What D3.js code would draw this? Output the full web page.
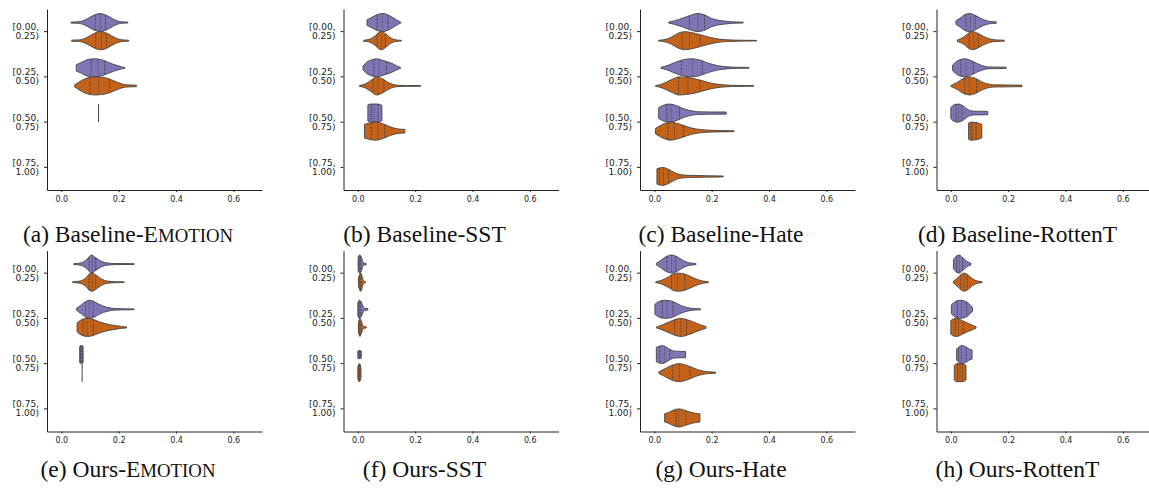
<!DOCTYPE html>
<html>
<head>
<meta charset="utf-8">
<script src="https://cdn.jsdelivr.net/npm/d3@7"></script>
<style>
  body { margin: 0; background: #fff; }
  svg { display: block; }
</style>
</head>
<body>
<div id="chart"></div>
<script>
// Bins on the y axis (tick labels are split on two lines).
const bins = ["[0.00,\n0.25)", "[0.25,\n0.50)", "[0.50,\n0.75)", "[0.75,\n1.00)"];
const xTicks = [0.0, 0.2, 0.4, 0.6];
const hues = ["purple", "orange"];

// Panel captions: prefix, small-caps word (if any), rest.
const captions = [
  ["(a) Baseline-", "EMOTION"], ["(b) Baseline-SST", ""], ["(c) Baseline-Hate", ""], ["(d) Baseline-RottenT", ""],
  ["(e) Ours-", "EMOTION"], ["(f) Ours-SST", ""], ["(g) Ours-Hate", ""], ["(h) Ours-RottenT", ""]
];

// Each violin: bin index, hue index, quartiles [q1, median, q3], kde profile [value, relative density].
// A single observation is given as "point".
const baselineEmotion = [
  {bin: 0, hue: 0, quart: [0.118, 0.136, 0.154], kde: [[0.034,0.06],[0.06,0.08],[0.08,0.25],[0.10,0.6],[0.12,0.9],[0.135,1],[0.15,0.9],[0.17,0.6],[0.19,0.25],[0.21,0.08],[0.232,0.05]]},
  {bin: 0, hue: 1, quart: [0.12, 0.14, 0.157], kde: [[0.036,0.06],[0.06,0.08],[0.08,0.22],[0.10,0.55],[0.12,0.88],[0.137,1],[0.155,0.88],[0.175,0.55],[0.195,0.22],[0.215,0.08],[0.235,0.05]]},
  {bin: 1, hue: 0, quart: [0.104, 0.128, 0.151], kde: [[0.052,0.35],[0.07,0.6],[0.09,0.9],[0.115,1],[0.14,0.9],[0.165,0.6],[0.19,0.3],[0.21,0.12],[0.222,0.03]]},
  {bin: 1, hue: 1, quart: [0.10, 0.13, 0.168], kde: [[0.046,0.1],[0.06,0.4],[0.08,0.75],[0.10,0.95],[0.12,1],[0.14,0.95],[0.16,0.85],[0.18,0.6],[0.20,0.35],[0.22,0.15],[0.24,0.1],[0.262,0.08]]},
  {bin: 2, hue: 0, point: 0.13}
];
const baselineSST = [
  {bin: 0, hue: 0, quart: [0.067, 0.085, 0.106], kde: [[0.032,0.3],[0.05,0.6],[0.07,0.9],[0.088,1],[0.105,0.85],[0.125,0.5],[0.14,0.2],[0.15,0.05]]},
  {bin: 0, hue: 1, quart: [0.067, 0.082, 0.096], kde: [[0.02,0.05],[0.04,0.15],[0.06,0.5],[0.075,0.95],[0.082,1],[0.095,0.8],[0.11,0.4],[0.125,0.15],[0.14,0.06],[0.152,0.04]]},
  {bin: 1, hue: 0, quart: [0.056, 0.074, 0.10], kde: [[0.018,0.2],[0.03,0.6],[0.05,0.9],[0.065,1],[0.085,0.85],[0.105,0.65],[0.125,0.4],[0.14,0.15],[0.149,0.05]]},
  {bin: 1, hue: 1, quart: [0.053, 0.07, 0.091], kde: [[0.006,0.05],[0.025,0.2],[0.045,0.6],[0.065,1],[0.085,0.8],[0.105,0.4],[0.125,0.15],[0.14,0.07],[0.17,0.05],[0.219,0.04]]},
  {bin: 2, hue: 0, quart: [0.047, 0.056, 0.07], kde: [[0.035,0.9],[0.045,1],[0.07,1],[0.084,0.85]]},
  {bin: 2, hue: 1, quart: [0.047, 0.07, 0.094], kde: [[0.023,0.75],[0.04,0.9],[0.06,1],[0.08,0.9],[0.10,0.65],[0.12,0.4],[0.14,0.25],[0.164,0.2]]}
];
const baselineHate = [
  {bin: 0, hue: 0, quart: [0.123, 0.152, 0.175], kde: [[0.05,0.05],[0.07,0.2],[0.10,0.5],[0.13,0.85],[0.152,1],[0.175,0.85],[0.20,0.45],[0.225,0.25],[0.25,0.15],[0.27,0.08],[0.31,0.05]]},
  {bin: 0, hue: 1, quart: [0.097, 0.123, 0.16], kde: [[0.015,0.04],[0.04,0.15],[0.06,0.4],[0.085,0.85],[0.105,1],[0.13,0.9],[0.16,0.65],[0.19,0.4],[0.22,0.2],[0.25,0.1],[0.30,0.05],[0.357,0.03]]},
  {bin: 1, hue: 0, quart: [0.094, 0.134, 0.167], kde: [[0.023,0.05],[0.05,0.3],[0.08,0.7],[0.11,0.95],[0.13,1],[0.16,0.85],[0.19,0.5],[0.22,0.25],[0.25,0.12],[0.29,0.06],[0.33,0.04]]},
  {bin: 1, hue: 1, quart: [0.085, 0.117, 0.158], kde: [[0.004,0.03],[0.03,0.25],[0.06,0.7],[0.085,1],[0.11,0.95],[0.14,0.8],[0.17,0.55],[0.20,0.3],[0.23,0.15],[0.27,0.07],[0.347,0.03]]},
  {bin: 2, hue: 0, quart: [0.044, 0.058, 0.088], kde: [[0.015,0.6],[0.03,0.85],[0.05,1],[0.07,0.9],[0.09,0.65],[0.11,0.4],[0.13,0.25],[0.15,0.15],[0.20,0.12],[0.251,0.12]]},
  {bin: 2, hue: 1, quart: [0.047, 0.07, 0.102], kde: [[0.004,0.3],[0.02,0.6],[0.04,0.9],[0.055,1],[0.075,0.9],[0.10,0.65],[0.13,0.35],[0.16,0.18],[0.20,0.1],[0.278,0.05]]},
  {bin: 3, hue: 1, quart: [0.018, 0.032, 0.05], kde: [[0.009,0.85],[0.02,0.95],[0.03,1],[0.045,0.85],[0.06,0.6],[0.075,0.35],[0.09,0.2],[0.12,0.12],[0.18,0.08],[0.24,0.05]]}
];
const baselineRottenT = [
  {bin: 0, hue: 0, quart: [0.053, 0.068, 0.085], kde: [[0.018,0.2],[0.035,0.55],[0.05,0.9],[0.065,1],[0.085,0.8],[0.105,0.45],[0.125,0.2],[0.145,0.1],[0.158,0.08]]},
  {bin: 0, hue: 1, quart: [0.064, 0.08, 0.096], kde: [[0.023,0.08],[0.045,0.4],[0.065,0.9],[0.078,1],[0.095,0.8],[0.115,0.45],[0.135,0.2],[0.16,0.08],[0.187,0.05]]},
  {bin: 1, hue: 0, quart: [0.035, 0.053, 0.078], kde: [[0.006,0.3],[0.02,0.7],[0.04,0.97],[0.05,1],[0.07,0.8],[0.09,0.5],[0.11,0.25],[0.13,0.1],[0.193,0.07]]},
  {bin: 1, hue: 1, quart: [0.049, 0.064, 0.09], kde: [[0.0,0.05],[0.02,0.35],[0.045,0.85],[0.065,1],[0.085,0.85],[0.105,0.5],[0.125,0.25],[0.15,0.12],[0.20,0.1],[0.248,0.08]]},
  {bin: 2, hue: 0, quart: [0.018, 0.027, 0.039], kde: [[0.0,0.6],[0.01,0.9],[0.025,1],[0.04,0.85],[0.055,0.5],[0.07,0.25],[0.09,0.2],[0.11,0.2],[0.129,0.18]]},
  {bin: 2, hue: 1, quart: [0.07, 0.076, 0.088], kde: [[0.062,0.9],[0.07,1],[0.09,0.95],[0.10,0.85],[0.108,0.75]]}
];
const oursEmotion = [
  {bin: 0, hue: 0, quart: [0.097, 0.109, 0.12], kde: [[0.043,0.04],[0.07,0.15],[0.09,0.55],[0.105,1],[0.12,0.7],[0.14,0.3],[0.16,0.12],[0.19,0.06],[0.254,0.04]]},
  {bin: 0, hue: 1, quart: [0.097, 0.108, 0.12], kde: [[0.039,0.04],[0.065,0.12],[0.085,0.45],[0.10,0.95],[0.108,1],[0.12,0.8],[0.14,0.35],[0.16,0.12],[0.19,0.06],[0.219,0.04]]},
  {bin: 1, hue: 0, quart: [0.085, 0.097, 0.111], kde: [[0.053,0.1],[0.07,0.5],[0.09,0.95],[0.10,1],[0.115,0.85],[0.135,0.5],[0.16,0.22],[0.19,0.08],[0.254,0.04]]},
  {bin: 1, hue: 1, quart: [0.076, 0.09, 0.111], kde: [[0.055,0.5],[0.07,0.85],[0.09,1],[0.11,0.9],[0.13,0.65],[0.15,0.45],[0.17,0.3],[0.19,0.2],[0.21,0.1],[0.228,0.05]]},
  {bin: 2, hue: 0, quart: [0.067, 0.07, 0.073], kde: [[0.064,0.9],[0.07,1],[0.076,0.9]]},
  {bin: 2, hue: 1, point: 0.0725}
];
const oursSST = [
  {bin: 0, hue: 0, quart: [0.004, 0.007, 0.01], kde: [[0.001,0.7],[0.006,1],[0.012,0.8],[0.017,0.3],[0.023,0.1],[0.029,0.08]]},
  {bin: 0, hue: 1, quart: [0.006, 0.009, 0.012], kde: [[0.002,0.4],[0.008,0.95],[0.011,1],[0.016,0.5],[0.02,0.15],[0.026,0.08]]},
  {bin: 1, hue: 0, quart: [0.003, 0.006, 0.01], kde: [[0.0,0.7],[0.005,1],[0.012,0.8],[0.018,0.35],[0.024,0.12],[0.035,0.08]]},
  {bin: 1, hue: 1, quart: [0.005, 0.008, 0.011], kde: [[0.002,0.4],[0.007,1],[0.012,0.7],[0.017,0.25],[0.022,0.1],[0.029,0.07]]},
  {bin: 2, hue: 0, quart: [0.004, 0.006, 0.008], kde: [[0.0,0.4],[0.005,0.45],[0.012,0.4]]},
  {bin: 2, hue: 1, quart: [0.003, 0.005, 0.007], kde: [[0.0,0.6],[0.004,1],[0.008,0.9],[0.011,0.5]]}
];
const oursHate = [
  {bin: 0, hue: 0, quart: [0.044, 0.06, 0.074], kde: [[0.007,0.1],[0.02,0.35],[0.04,0.8],[0.06,1],[0.08,0.8],[0.10,0.4],[0.12,0.15],[0.145,0.07]]},
  {bin: 0, hue: 1, quart: [0.06, 0.08, 0.106], kde: [[0.005,0.05],[0.025,0.2],[0.05,0.6],[0.07,0.95],[0.085,1],[0.105,0.9],[0.125,0.65],[0.15,0.3],[0.17,0.12],[0.188,0.06]]},
  {bin: 1, hue: 0, quart: [0.028, 0.044, 0.065], kde: [[0.002,0.55],[0.015,0.85],[0.035,1],[0.055,0.95],[0.075,0.7],[0.095,0.4],[0.115,0.2],[0.14,0.08],[0.161,0.06]]},
  {bin: 1, hue: 1, quart: [0.071, 0.092, 0.112], kde: [[0.007,0.05],[0.03,0.3],[0.055,0.65],[0.08,0.95],[0.095,1],[0.115,0.85],[0.14,0.55],[0.16,0.3],[0.18,0.1]]},
  {bin: 2, hue: 0, quart: [0.019, 0.036, 0.054], kde: [[0.007,0.8],[0.02,0.95],[0.028,1],[0.04,0.85],[0.055,0.55],[0.07,0.38],[0.09,0.35],[0.109,0.35]]},
  {bin: 2, hue: 1, quart: [0.063, 0.087, 0.124], kde: [[0.016,0.1],[0.035,0.4],[0.06,0.8],[0.085,1],[0.11,0.85],[0.13,0.6],[0.15,0.35],[0.17,0.18],[0.19,0.1],[0.214,0.06]]},
  {bin: 3, hue: 1, quart: [0.075, 0.084, 0.11], kde: [[0.036,0.45],[0.05,0.6],[0.07,0.9],[0.088,1],[0.105,0.85],[0.125,0.65],[0.145,0.5],[0.159,0.45]]}
];
const oursRottenT = [
  {bin: 0, hue: 0, quart: [0.02, 0.029, 0.041], kde: [[0.009,0.5],[0.02,0.9],[0.03,1],[0.04,0.75],[0.05,0.45],[0.06,0.22],[0.07,0.1]]},
  {bin: 0, hue: 1, quart: [0.035, 0.047, 0.058], kde: [[0.009,0.1],[0.025,0.5],[0.04,0.95],[0.048,1],[0.06,0.8],[0.075,0.4],[0.09,0.15],[0.109,0.05]]},
  {bin: 1, hue: 0, quart: [0.023, 0.037, 0.055], kde: [[0.002,0.5],[0.015,0.85],[0.03,1],[0.045,0.95],[0.06,0.7],[0.07,0.4],[0.076,0.2]]},
  {bin: 1, hue: 1, quart: [0.015, 0.027, 0.043], kde: [[0.0,0.75],[0.01,0.95],[0.02,1],[0.04,0.75],[0.06,0.45],[0.075,0.25],[0.088,0.08]]},
  {bin: 2, hue: 0, quart: [0.027, 0.037, 0.053], kde: [[0.02,0.6],[0.03,0.9],[0.04,1],[0.055,0.8],[0.065,0.6],[0.074,0.5]]},
  {bin: 2, hue: 1, quart: [0.023, 0.032, 0.041], kde: [[0.012,0.8],[0.02,1],[0.04,1],[0.053,0.8]]}
];

const panels = [baselineEmotion, baselineSST, baselineHate, baselineRottenT,
                oursEmotion, oursSST, oursHate, oursRottenT];

// Layout
const width = 1149;
const height = 489;
const colX = [47, 343.5, 640, 936.5];
const rowTop = [9, 250.5];
const plotW = 215;
const plotH = 181;
const captionY = [242, 477];

const color = d3.scaleOrdinal().domain([0, 1]).range(["#8074b4", "#c4621a"]);
const edge = "#444444";

const svg = d3.select("#chart").append("svg")
    .attr("width", width)
    .attr("height", height)
    .attr("viewBox", [0, 0, width, height]);

// linear interpolation of the kde profile, used to size the quartile lines
function densityAt(kde, v) {
  if (v <= kde[0][0]) return kde[0][1];
  for (let i = 1; i < kde.length; i++) {
    if (v <= kde[i][0]) {
      const t = (v - kde[i-1][0]) / (kde[i][0] - kde[i-1][0]);
      return kde[i-1][1] + t * (kde[i][1] - kde[i-1][1]);
    }
  }
  return kde[kde.length - 1][1];
}

panels.forEach((violins, p) => {
  const col = p % 4, row = Math.floor(p / 4);
  const x0 = colX[col], y0 = rowTop[row];

  const x = d3.scaleLinear().domain([-0.05, 0.7]).range([x0, x0 + plotW]);
  const y = d3.scaleBand().domain(d3.range(bins.length)).range([y0, y0 + plotH]);
  const hw = y.bandwidth() * 0.2; // half width of each hue violin
  const center = d => y(d.bin) + y.bandwidth() / 2 + (d.hue === 0 ? -1 : 1) * hw;

  const g = svg.append("g");

  // violins
  const area = d3.area()
      .curve(d3.curveMonotoneX)
      .x(k => x(k[0]));

  violins.forEach(d => {
    const cy = center(d);
    if (d.point !== undefined) {
      g.append("line")
          .attr("x1", x(d.point)).attr("x2", x(d.point))
          .attr("y1", cy - hw).attr("y2", cy + hw)
          .attr("stroke", edge).attr("stroke-width", 1);
      return;
    }
    g.append("path")
        .datum(d.kde)
        .attr("d", area.y0(k => cy - k[1] * hw).y1(k => cy + k[1] * hw))
        .attr("fill", color(d.hue))
        .attr("stroke", edge)
        .attr("stroke-width", 0.9);

    d.quart.forEach((q, i) => {
      const w = densityAt(d.kde, q) * hw;
      g.append("line")
          .attr("x1", x(q)).attr("x2", x(q))
          .attr("y1", cy - w).attr("y2", cy + w)
          .attr("stroke", edge)
          .attr("stroke-width", 0.8)
          .attr("stroke-dasharray", i === 1 ? "1,1" : "2.5,1");
    });
  });

  // x axis
  g.append("g")
      .attr("transform", `translate(0,${y0 + plotH})`)
      .call(d3.axisBottom(x).tickValues(xTicks).tickFormat(d3.format(".1f")).tickSize(2).tickSizeOuter(0))
      .call(a => a.select(".domain").attr("stroke", "#222"))
      .call(a => a.selectAll(".tick line").attr("stroke", "#222"))
      .selectAll("text")
      .attr("y", 6)
      .style("font-family", "DejaVu Sans")
      .style("font-size", "8px")
      .attr("fill", "#222");

  // y axis
  g.append("g")
      .attr("transform", `translate(${x0},0)`)
      .call(d3.axisLeft(y).tickFormat(i => "").tickSize(3).tickSizeOuter(0))
      .call(a => a.select(".domain").attr("stroke", "#222"))
      .call(a => a.selectAll(".tick line").attr("stroke", "#222"))
      .call(a => a.selectAll(".tick text")
          .attr("x", -8)
          .attr("dy", null)
          .style("font-family", "DejaVu Sans")
          .style("font-size", "9px")
          .attr("fill", "#222")
          .selectAll("tspan")
          .data(i => bins[i].split("\n"))
          .join("tspan")
            .attr("x", -8)
            .attr("y", (t, j) => j === 0 ? -1.5 : 7.5)
            .text(t => t));

  // caption
  const cap = svg.append("text")
      .attr("x", x0 + 81)
      .attr("y", captionY[row])
      .attr("text-anchor", "middle")
      .style("font-family", "Liberation Serif")
      .style("font-size", "23.5px")
      .attr("fill", "#111");
  cap.append("tspan").text(captions[p][0]);
  if (captions[p][1]) {
    cap.append("tspan").text(captions[p][1][0]);
    cap.append("tspan").style("font-size", "18.8px").text(captions[p][1].slice(1));
  }
});
</script>
</body>
</html>
